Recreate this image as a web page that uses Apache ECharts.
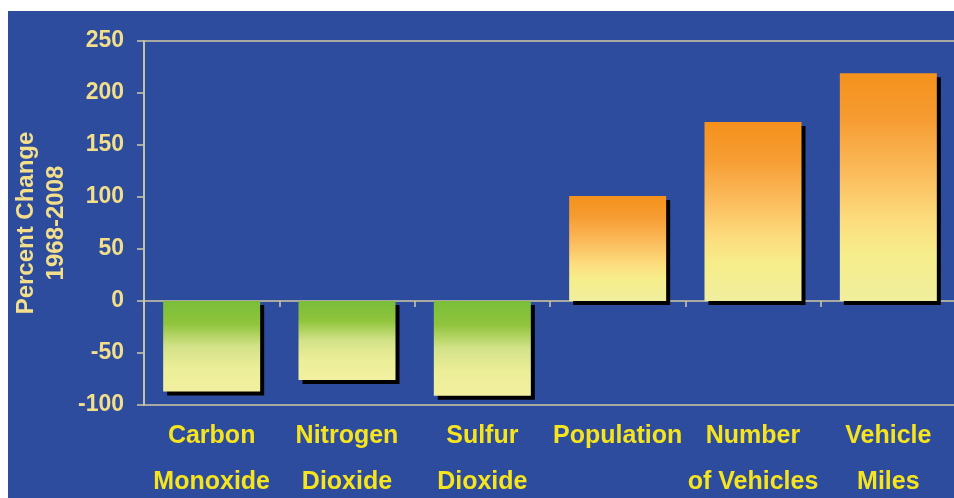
<!DOCTYPE html>
<html>
<head>
<meta charset="utf-8">
<script src="https://cdn.jsdelivr.net/npm/echarts@6/dist/echarts.min.js"></script>
<style>
  html, body { margin: 0; padding: 0; background: #fff; }
  #chart { position: absolute; left: 8px; top: 11px; width: 946px; height: 487px; }
</style>
</head>
<body>
<div id="chart"></div>
<script>
// percent change 1968-2008
const categories = ['Carbon\nMonoxide', 'Nitrogen\nDioxide', 'Sulfur\nDioxide', 'Population', 'Number\nof Vehicles', 'Vehicle\nMiles']
const values = [-87, -76, -91, 101, 172, 219]
const yTicks = { min: -100, max: 250, interval: 50 }

const AXIS_COLOR = '#CFC8A4'
const LABEL_PALE = '#F3DF8A'
const LABEL_YELLOW = '#F5E41E'

const orangeFill = new echarts.graphic.LinearGradient(0, 0, 0, 1, [
  { offset: 0, color: '#F5911C' },
  { offset: 0.2, color: '#F69C32' },
  { offset: 0.45, color: '#FBBD5E' },
  { offset: 0.65, color: '#FCDD7E' },
  { offset: 0.8, color: '#F6EE8C' },
  { offset: 1, color: '#F0EE9E' }
])
const greenFill = new echarts.graphic.LinearGradient(0, 0, 0, 1, [
  { offset: 0, color: '#7ABD3A' },
  { offset: 0.25, color: '#90C43C' },
  { offset: 0.5, color: '#D3E288' },
  { offset: 0.75, color: '#ECEE98' },
  { offset: 1, color: '#F2F0A0' }
])

const chart = echarts.init(document.getElementById('chart'))

chart.setOption({
  backgroundColor: '#2E4C9D',
  animation: false,
  grid: {
    left: 136, right: -2, top: 30, bottom: 93,
    outerBoundsMode: 'none', containLabel: false,
    show: true, borderColor: AXIS_COLOR, borderWidth: 1.5, backgroundColor: 'transparent'
  },
  xAxis: [
    {
      // line at zero with boundary ticks
      type: 'category', data: categories,
      axisLine: { onZero: true, lineStyle: { color: AXIS_COLOR, width: 1.5 } },
      axisTick: { show: true, length: 6, lineStyle: { color: AXIS_COLOR, width: 1.5 } },
      axisLabel: { show: false },
      splitLine: { show: false }
    },
    {
      // labels under the plot
      type: 'category', data: categories, position: 'bottom',
      axisLine: { show: false }, axisTick: { show: false },
      axisLabel: {
        interval: 0, margin: 8, color: LABEL_YELLOW, fontFamily: 'Liberation Sans, Arial, sans-serif',
        fontWeight: 'bold', fontSize: 25, lineHeight: 46
      }
    }
  ],
  yAxis: {
    type: 'value', min: yTicks.min, max: yTicks.max, interval: yTicks.interval,
    name: 'Percent Change\n1968-2008',
    nameLocation: 'middle', nameGap: 73, nameMoveOverlap: false,
    nameTextStyle: {
      color: LABEL_PALE, fontFamily: 'Liberation Sans, Arial, sans-serif',
      fontWeight: 'bold', fontSize: 24, lineHeight: 30
    },
    axisLine: { show: true, lineStyle: { color: AXIS_COLOR, width: 1.5 } },
    axisTick: { show: true, length: 7, lineStyle: { color: AXIS_COLOR, width: 1.5 } },
    axisLabel: {
      margin: 20, color: LABEL_PALE, fontFamily: 'Liberation Sans, Arial, sans-serif',
      fontWeight: 'bold', fontSize: 23
    },
    splitLine: { show: false }
  },
  series: [{
    type: 'bar',
    barWidth: 97,
    data: values.map(v => ({
      value: v,
      itemStyle: { color: v < 0 ? greenFill : orangeFill }
    })),
    itemStyle: {
      borderWidth: 0,
      shadowColor: '#000', shadowBlur: 0, shadowOffsetX: 4, shadowOffsetY: 4
    }
  }]
})
</script>
</body>
</html>
